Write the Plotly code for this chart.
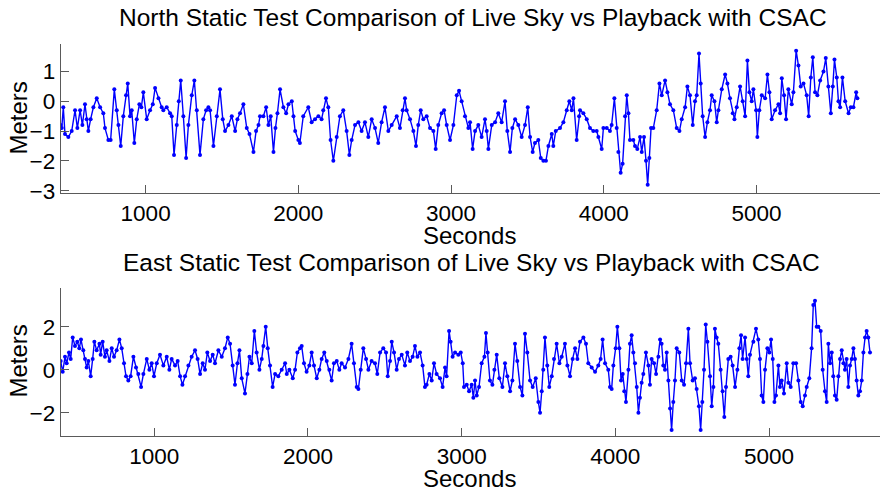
import plotly.graph_objects as go

# ---------------- data ----------------
north_t = [444, 451, 461, 472, 494, 516, 538, 553, 571, 586, 603, 614, 625, 640, 658, 680, 702, 723, 734, 756,
           771, 795, 811, 822, 837, 854, 872, 883, 898, 909, 926, 942, 959, 972, 985, 1007, 1029, 1047, 1062, 1084,
           1105, 1116, 1138, 1160, 1171, 1186, 1204, 1217, 1230, 1247, 1265, 1280, 1302, 1319, 1335, 1356, 1378, 1396, 1411, 1422,
           1444, 1466, 1487, 1505, 1520, 1542, 1564, 1586, 1601, 1618, 1640, 1662, 1680, 1706, 1723, 1739, 1749, 1771, 1789, 1804,
           1819, 1837, 1850, 1863, 1880, 1902, 1920, 1935, 1957, 1968, 1979, 2000, 2010, 2032, 2065, 2087, 2109, 2131, 2152, 2163,
           2181, 2196, 2211, 2229, 2251, 2272, 2294, 2316, 2334, 2349, 2371, 2393, 2414, 2436, 2458, 2480, 2502, 2523, 2545, 2567,
           2589, 2611, 2644, 2665, 2683, 2698, 2709, 2731, 2753, 2770, 2785, 2801, 2818, 2840, 2862, 2884, 2899, 2916, 2938, 2954,
           2971, 2993, 3015, 3037, 3052, 3069, 3091, 3113, 3124, 3141, 3157, 3178, 3200, 3222, 3233, 3244, 3266, 3288, 3309, 3331,
           3353, 3368, 3386, 3401, 3419, 3440, 3462, 3484, 3502, 3517, 3534, 3549, 3571, 3587, 3604, 3621, 3637, 3659, 3669, 3685,
           3713, 3735, 3757, 3774, 3790, 3801, 3822, 3838, 3844, 3866, 3888, 3909, 3931, 3953, 3964, 3986, 3997, 4019, 4040, 4051,
           4069, 4084, 4095, 4110, 4123, 4139, 4150, 4161, 4171, 4193, 4204, 4219, 4237, 4248, 4263, 4276, 4287, 4298, 4309, 4324,
           4346, 4364, 4379, 4401, 4416, 4433, 4455, 4477, 4495, 4510, 4532, 4547, 4564, 4582, 4597, 4608, 4623, 4634, 4647, 4663,
           4678, 4695, 4706, 4724, 4739, 4750, 4772, 4794, 4809, 4826, 4844, 4855, 4870, 4892, 4909, 4925, 4940, 4953, 4968, 4979,
           4997, 5005, 5018, 5034, 5056, 5071, 5084, 5099, 5121, 5143, 5154, 5165, 5180, 5193, 5208, 5230, 5241, 5259, 5274, 5289,
           5307, 5328, 5341, 5355, 5368, 5383, 5398, 5416, 5438, 5453, 5470, 5486, 5499, 5510, 5525, 5536, 5547, 5562, 5580, 5602,
           5617, 5634, 5652, 5660]
north_v = [-0.8, -0.9, -0.2, -1.1, -1.2, -1.0, -0.3, -0.9, -0.3, -0.8, -0.1, -0.6, -1.0, -0.6, -0.2, 0.1, -0.2, -0.4, -0.9, -1.3,
           -1.3, 0.4, -0.3, -0.8, -1.5, -0.5, 0.2, 0.6, -0.5, -0.3, -1.4, -0.6, -0.1, -0.2, 0.3, -0.6, -0.3, -0.1, 0.45, 0.1,
           -0.2, -0.3, -0.2, -0.4, -0.5, -1.8, -0.8, 0.0, 0.7, -0.5, -1.9, -0.8, 0.2, 0.7, -0.3, -1.8, -0.6, -0.3, -0.2, -0.3,
           -1.5, -0.5, 0.4, -0.6, -1.0, -0.8, -0.5, -1.0, -0.6, -0.4, -0.1, -0.9, -1.1, -1.7, -1.0, -0.8, -0.5, -0.5, -0.2, -0.8,
           -0.5, -1.7, -0.9, -0.4, 0.4, -0.2, -0.4, -0.1, 0.0, -0.5, -1.0, -1.3, -1.4, -0.5, -0.2, -0.7, -0.6, -0.5, -0.6, -0.3,
           0.1, -0.2, -1.3, -2.0, -1.2, -0.5, -0.3, -1.0, -1.8, -1.3, -0.8, -0.7, -1.0, -0.7, -1.2, -0.6, -0.9, -1.4, -0.7, -0.2,
           -1.0, -0.8, -0.5, -0.9, -0.3, 0.1, -0.3, -0.6, -1.0, -1.5, -0.8, -0.3, -0.6, -0.5, -0.9, -1.0, -1.6, -0.8, -0.4, -0.3,
           -0.8, -1.3, -0.8, 0.2, 0.35, 0.0, -0.5, -0.9, -0.7, -1.6, -1.0, -0.8, -1.2, -0.6, -1.0, -1.6, -0.8, -0.7, -0.4, -0.7,
           0.0, -1.0, -1.7, -0.9, -0.6, -0.8, -1.2, -0.8, -0.2, -1.2, -1.7, -1.4, -1.3, -1.9, -2.0, -2.0, -1.5, -1.1, -1.5, -1.0,
           -0.9, -0.7, -0.3, 0.0, -0.3, 0.1, -1.3, -0.5, -0.3, -0.4, -0.6, -0.9, -1.0, -1.0, -1.2, -1.6, -0.9, -0.9, -1.0, -0.8,
           0.1, -0.9, -1.7, -2.4, -2.1, -0.5, 0.2, -0.4, -1.3, -1.3, -1.5, -1.6, -1.2, -1.7, -1.2, -2.0, -2.8, -1.9, -0.9, -0.9,
           -0.3, 0.6, 0.2, 0.7, 0.3, -0.1, -0.3, -0.9, -1.0, -0.6, -0.2, 0.5, 0.2, -0.8, 0.0, 0.2, 1.6, 0.6, -0.5, -1.2,
           -0.7, -0.3, 0.2, 0.0, -0.7, -0.3, 0.4, 0.9, 0.6, 0.1, -0.4, -0.6, -0.2, 0.5, 0.0, -0.5, 1.37, 0.3, 0.0, 0.4,
           -0.3, -1.2, -0.3, 0.2, 0.1, 0.9, 0.3, -0.6, -0.3, -0.1, -0.4, 0.77, 0.2, -0.6, 0.4, -0.1, 0.3, 1.7, 1.2, 0.5,
           0.6, 0.2, -0.5, 0.8, 1.48, 0.3, 0.2, 0.7, 1.0, 1.45, 0.5, -0.4, 0.5, 1.4, 0.8, 0.0, -0.2, 0.8, 0.0, -0.4,
           -0.2, -0.2, 0.3, 0.1]

east_t = [391, 404, 419, 430, 445, 456, 469, 484, 499, 512, 523, 538, 549, 560, 571, 586, 599, 610, 625, 643,
          651, 664, 679, 690, 708, 723, 738, 755, 773, 788, 803, 816, 831, 846, 864, 881, 896, 914, 929, 951,
          968, 983, 998, 1016, 1037, 1059, 1081, 1098, 1113, 1135, 1152, 1168, 1183, 1200, 1222, 1243, 1265, 1282, 1298, 1315,
          1330, 1345, 1363, 1380, 1395, 1417, 1439, 1460, 1478, 1493, 1510, 1525, 1541, 1554, 1569, 1590, 1606, 1619, 1634, 1651,
          1666, 1684, 1699, 1710, 1725, 1738, 1753, 1770, 1786, 1807, 1829, 1851, 1862, 1879, 1901, 1916, 1931, 1948, 1959, 1974,
          1991, 2009, 2024, 2039, 2057, 2074, 2089, 2106, 2122, 2139, 2154, 2169, 2187, 2204, 2219, 2241, 2263, 2284, 2299, 2317,
          2328, 2343, 2360, 2378, 2393, 2414, 2436, 2451, 2469, 2490, 2508, 2519, 2534, 2545, 2560, 2577, 2592, 2610, 2631, 2646,
          2664, 2681, 2696, 2712, 2729, 2746, 2761, 2772, 2790, 2805, 2820, 2837, 2859, 2876, 2892, 2902, 2918, 2928, 2941, 2957,
          2978, 2994, 3007, 3015, 3033, 3048, 3065, 3076, 3087, 3098, 3113, 3130, 3148, 3158, 3169, 3184, 3200, 3213, 3228, 3245,
          3265, 3282, 3297, 3315, 3330, 3347, 3362, 3380, 3395, 3412, 3427, 3445, 3462, 3482, 3499, 3510, 3521, 3531, 3542, 3557,
          3570, 3586, 3601, 3618, 3636, 3651, 3672, 3688, 3705, 3722, 3738, 3753, 3770, 3792, 3809, 3824, 3846, 3868, 3889, 3904,
          3917, 3933, 3954, 3965, 3976, 3987, 4002, 4013, 4026, 4037, 4048, 4058, 4069, 4085, 4095, 4106, 4117, 4128, 4139, 4150,
          4160, 4171, 4182, 4199, 4215, 4225, 4236, 4252, 4265, 4280, 4291, 4301, 4312, 4323, 4334, 4345, 4356, 4366, 4377, 4388,
          4399, 4416, 4432, 4447, 4460, 4475, 4486, 4503, 4518, 4529, 4544, 4555, 4566, 4577, 4588, 4599, 4616, 4627, 4638, 4648,
          4659, 4670, 4685, 4698, 4709, 4720, 4735, 4750, 4763, 4779, 4794, 4807, 4818, 4828, 4844, 4855, 4865, 4876, 4898, 4915,
          4930, 4941, 4952, 4963, 4974, 4989, 5002, 5013, 5024, 5035, 5045, 5061, 5071, 5082, 5097, 5115, 5126, 5141, 5158, 5176,
          5191, 5206, 5219, 5234, 5245, 5262, 5277, 5288, 5299, 5310, 5321, 5336, 5349, 5364, 5375, 5386, 5397, 5408, 5418, 5429,
          5440, 5451, 5462, 5473, 5484, 5494, 5505, 5516, 5527, 5538, 5549, 5559, 5570, 5581, 5592, 5603, 5614, 5625, 5635, 5646,
          5657]
east_v = [0.4, -0.1, 0.6, 0.3, 0.8, 0.5, 1.5, 1.1, 1.3, 1.0, 1.4, 0.9, 0.5, 0.1, 0.4, -0.3, 0.5, 1.3, 0.9, 1.2,
          0.7, 1.3, 0.6, 0.9, 0.4, 1.0, 0.6, 0.9, 1.4, 1.0, 0.3, -0.3, -0.5, -0.3, 0.6, 0.1, -0.2, -0.8, -0.2, 0.5,
          0.0, 0.3, -0.3, 0.3, 0.7, 0.2, 0.6, 0.0, 0.5, 0.2, 0.4, -0.3, -0.7, -0.3, 0.2, 0.6, 0.9, 0.5, -0.2, 0.3,
          0.0, 0.8, 0.4, 0.7, 0.3, 0.9, 0.6, 1.0, 1.5, 1.2, 0.2, -0.7, 0.3, 0.9, -0.4, -1.1, -0.2, 0.6, 0.3, 1.8,
          0.8, 0.0, 0.5, 1.1, 2.0, 1.0, 0.2, -0.8, -0.2, -0.3, 0.0, 0.3, -0.2, 0.0, -0.4, 0.0, 0.8, 1.0, 1.1, 0.3,
          -0.1, 0.2, 0.8, 0.2, -0.4, 0.0, 0.5, 0.8, 0.4, 0.0, -0.5, 0.3, 0.4, 0.0, 0.3, 0.1, 0.5, 1.2, 0.3, -0.8,
          -0.9, 0.0, 1.0, 0.5, 0.0, 0.4, 0.3, -0.2, 0.8, 1.0, 0.8, -0.3, 0.4, 1.3, 0.8, 0.0, 0.5, 0.7, 0.2, 0.8,
          0.4, 0.6, 1.1, 0.6, 0.8, 0.2, -0.8, -0.7, -0.2, -0.5, 0.3, -0.2, -0.4, -0.8, 0.1, -0.3, 1.8, 1.3, 0.6, 0.8,
          0.7, 0.8, 0.3, -0.8, -0.7, -1.0, -0.7, -1.3, -0.5, -1.2, -0.8, 0.3, 0.6, 1.7, 0.8, -0.5, -0.7, 0.0, 0.7, -0.4,
          -0.8, 0.3, -0.3, -1.0, -0.5, 1.2, 0.4, -0.8, -1.2, 1.67, 0.8, -0.5, -0.8, -0.4, -1.5, -2.0, -1.0, 0.0, 1.5, 0.2,
          -0.8, -0.3, 0.5, 1.2, 0.3, 0.6, 1.2, 0.2, -0.3, 0.5, 1.0, 0.5, 1.3, 1.5, 1.2, 0.3, 0.1, -0.1, 0.2, 0.5,
          1.4, 0.3, 0.0, -0.8, -0.9, 0.2, 1.0, 2.0, 1.0, -0.5, -0.2, -1.0, -1.5, 0.0, 1.2, 1.6, 0.8, 0.3, -0.8, -2.0,
          -1.3, -0.6, -0.2, 0.8, 0.2, -0.7, 0.5, 0.3, -0.2, 0.6, 1.4, 1.2, 0.2, 0.0, 0.8, -0.5, -1.8, -2.8, -1.5, -0.5,
          1.0, 0.8, -0.5, -0.7, 0.3, 1.9, 0.3, -0.5, -0.4, -0.9, -1.7, -2.8, -1.5, 0.0, 2.1, 1.3, -0.3, -1.7, -0.8, 1.9,
          1.5, 1.2, 0.0, -1.0, -2.2, -0.8, 0.5, 0.6, 0.2, -0.8, 0.0, 1.0, 1.6, 0.5, 1.5, 0.5, -0.3, 0.7, 1.3, 1.9,
          1.4, 0.5, -1.2, -1.5, 0.0, 1.0, 0.8, 1.4, 0.5, -1.5, -1.2, 0.2, -0.8, -0.5, -1.1, 0.3, -0.6, -0.8, 0.3, 0.3,
          -0.5, -1.5, -1.7, -1.2, -0.8, -0.4, 1.0, 3.0, 3.2, 2.0, 2.0, 1.8, 0.0, -1.0, -1.5, 1.2, 0.3, 0.8, -0.3, -1.2,
          -1.4, -0.3, 0.5, 0.9, 0.3, 0.0, 0.5, -0.8, 0.2, 0.5, 1.0, 0.5, -0.5, -1.2, -1.0, -0.5, 0.8, 1.5, 1.8, 1.5,
          0.8]

north_yticks = [-3, -2, -1, 0, 1]
east_yticks = [-2, 0, 2]
x_ticks = [1000, 2000, 3000, 4000, 5000]

titles = ["North Static Test Comparison of Live Sky vs Playback with CSAC",
          "East Static Test Comparison of Live Sky vs Playback with CSAC"]

# ---------------- figure ----------------
W, H = 880, 497
FONT = "Arial, Liberation Sans, sans-serif"
BLUE = "#0000ff"
AX = "#5a5a5a"

def px(x):
    return x / W

def py(y):
    return 1 - y / H

fig = go.Figure()
for t, v, xa, ya in [(north_t, north_v, "x", "y"), (east_t, east_v, "x2", "y2")]:
    fig.add_trace(go.Scatter(x=t, y=v, xaxis=xa, yaxis=ya, mode="lines+markers",
                             line=dict(color=BLUE, width=1.4),
                             marker=dict(color=BLUE, size=4, symbol="circle"),
                             showlegend=False, hoverinfo="skip"))

axis_common = dict(showgrid=False, zeroline=False, showline=True, linecolor=AX, linewidth=1,
                   ticks="inside", ticklen=8, tickcolor=AX, tickwidth=1,
                   tickfont=dict(family=FONT, size=22.5, color="black"), mirror=False)

fig.update_layout(
    width=W, height=H, margin=dict(l=0, r=0, t=0, b=0),
    paper_bgcolor="white", plot_bgcolor="white",
    xaxis=dict(domain=[px(60.7), 1.0], range=[444, 5808], tickvals=x_ticks, anchor="y", **axis_common),
    yaxis=dict(domain=[py(197), py(45)], range=[-3.08, 1.92], tickvals=north_yticks, anchor="x", **axis_common),
    xaxis2=dict(domain=[px(60.7), 1.0], range=[391, 5722], tickvals=x_ticks, anchor="y2", **axis_common),
    yaxis2=dict(domain=[py(445), py(294)], range=[-3.08, 3.79], tickvals=east_yticks, anchor="x2", **axis_common),
)

ann = []
ann.append(dict(text=titles[0], x=px(473), y=py(18), xref="paper", yref="paper", showarrow=False,
                font=dict(family=FONT, size=24.5, color="black"), xanchor="center", yanchor="middle"))
ann.append(dict(text=titles[1], x=px(471), y=py(268), xref="paper", yref="paper", showarrow=False,
                font=dict(family=FONT, size=24.5, color="black"), xanchor="center", yanchor="middle"))
for yc in [240, 488]:
    ann.append(dict(text="Seconds", x=px(469.5), y=py(yc), xref="paper", yref="paper", showarrow=False,
                    font=dict(family=FONT, size=24, color="black"), xanchor="center", yanchor="middle"))
for yc in [121, 369]:
    ann.append(dict(text="Meters", x=px(19), y=py(yc), xref="paper", yref="paper", showarrow=False,
                    textangle=-90, font=dict(family=FONT, size=24, color="black"),
                    xanchor="center", yanchor="middle"))
fig.update_layout(annotations=ann)

fig.write_html("out.html")
